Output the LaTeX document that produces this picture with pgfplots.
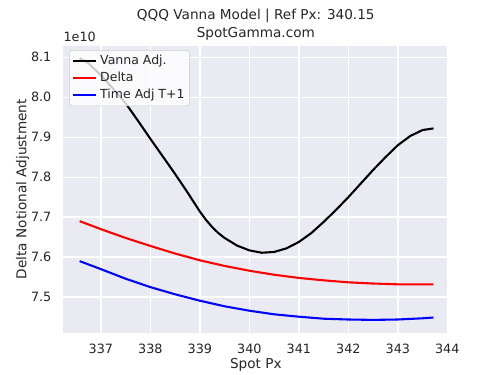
\documentclass[border=0pt]{standalone}
\usepackage{fontspec}
\setmainfont{DejaVu Sans}
\usepackage{pgfplots}
\pgfplotsset{compat=1.18}
\definecolor{sbbg}{HTML}{EAEAF2}
\definecolor{sbtext}{HTML}{262626}
\begin{document}
\begin{tikzpicture}[x=0.72pt,y=0.72pt]
\path[fill=white,use as bounding box] (-63.3,-42.3) rectangle (436.7,332.7);
\begin{axis}[
  at={(0,0)}, anchor=south west,
  scale only axis, width=277.2pt, height=206.64pt,
  xmin=336.24, xmax=344.02,
  ymin=7.411e10, ymax=8.129e10,
  clip mode=individual,
  axis background/.style={fill=sbbg},
  axis line style={draw=none},
  major tick length=0pt,
  grid=major,
  major grid style={white, line width=1pt},
  xtick={337,338,339,340,341,342,343,344},
  ytick={7.5e10,7.6e10,7.7e10,7.8e10,7.9e10,8.0e10,8.1e10},
  yticklabels={7.5,7.6,7.7,7.8,7.9,8.0,8.1},
  scaled y ticks=false,
  /pgf/number format/assume math mode=true,
  /pgf/number format/set thousands separator={},
  ticklabel style={font=\fontsize{9.2}{11}\selectfont, text=sbtext},
  xticklabel style={anchor=north, inner sep=0pt, yshift=-7.9pt},
  yticklabel style={anchor=east, inner sep=0pt, xshift=-8.4pt},
  title={QQQ Vanna Model | Ref Px: 340.15\\SpotGamma.com},
  title style={at={(axis description cs:0.5,0.99)}, anchor=south, align=center, inner sep=0pt, font=\fontsize{9.8}{12.6}\selectfont, text=sbtext},
  xlabel={Spot Px},
  xlabel style={at={(axis description cs:0.5,-0.088)}, anchor=north, inner sep=0pt, font=\fontsize{9.8}{12}\selectfont, text=sbtext},
  ylabel={Delta Notional Adjustment},
  ylabel style={at={(axis description cs:-0.088,0.5)}, anchor=south, rotate=0, inner sep=0pt, font=\fontsize{9.8}{12}\selectfont, text=sbtext},
  legend cell align=left,
  legend style={at={(axis description cs:0.0155,0.985)}, anchor=north west,
    draw=black!20, fill=white, fill opacity=0.8, text opacity=1,
    rounded corners=2pt, inner sep=1.5pt, row sep=0pt,
    font=\fontsize{9}{11}\selectfont, text=sbtext,
    nodes={inner sep=2pt}},
]
\addplot[black, line width=1.5pt] coordinates {
(336.57,8.098e10) (336.75,8.085e10) (337.0,8.055e10) (337.25,8.021e10) (337.5,7.985e10)
(337.75,7.941e10) (338.0,7.896e10) (338.25,7.852e10) (338.5,7.808e10) (338.75,7.762e10)
(338.875,7.738e10) (339.0,7.714e10) (339.125,7.693e10) (339.25,7.675e10) (339.375,7.660e10)
(339.5,7.648e10) (339.75,7.629e10) (340.0,7.617e10)
(340.25,7.611e10) (340.5,7.613e10) (340.75,7.622e10) (341.0,7.638e10) (341.25,7.660e10)
(341.5,7.688e10) (341.75,7.718e10) (342.0,7.750e10) (342.25,7.784e10) (342.5,7.818e10)
(342.75,7.850e10) (343.0,7.880e10) (343.25,7.903e10) (343.5,7.918e10) (343.72,7.922e10)
};
\addlegendentry{Vanna Adj.}
\addplot[red, line width=1.5pt] coordinates {
(336.57,7.690e10) (337.0,7.670e10) (337.5,7.648e10) (338.0,7.628e10) (338.5,7.609e10)
(339.0,7.592e10) (339.5,7.578e10) (340.0,7.566e10) (340.5,7.556e10) (341.0,7.548e10)
(341.5,7.542e10) (342.0,7.537e10) (342.5,7.534e10) (343.0,7.532e10) (343.5,7.532e10)
(343.72,7.532e10)
};
\addlegendentry{Delta}
\addplot[blue, line width=1.5pt] coordinates {
(336.57,7.590e10) (337.0,7.570e10) (337.5,7.546e10) (338.0,7.525e10) (338.5,7.507e10)
(339.0,7.491e10) (339.5,7.477e10) (340.0,7.466e10) (340.5,7.457e10) (341.0,7.451e10)
(341.5,7.446e10) (342.0,7.444e10) (342.5,7.443e10) (343.0,7.444e10) (343.5,7.447e10)
(343.72,7.449e10)
};
\addlegendentry{Time Adj T+1}
\node[anchor=south west, inner sep=0pt, font=\fontsize{9.2}{11}\selectfont, text=sbtext] at (axis description cs:0,1.0146) {1e10};
\end{axis}
\end{tikzpicture}
\end{document}
